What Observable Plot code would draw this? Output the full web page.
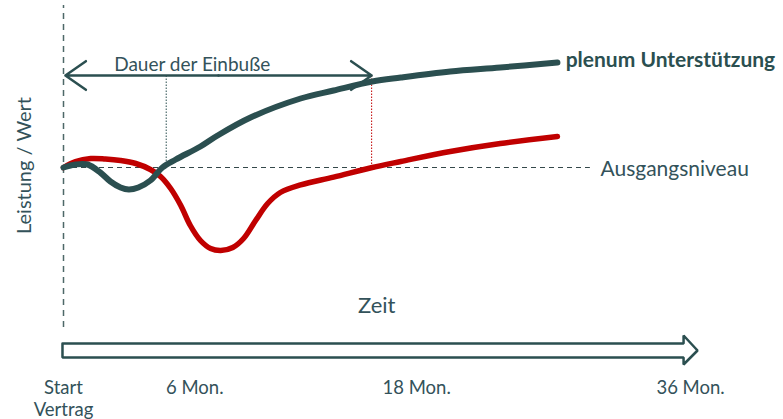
<!DOCTYPE html>
<html>
<head>
<meta charset="utf-8">
<script src="https://cdn.jsdelivr.net/npm/d3@7"></script>
<script src="https://cdn.jsdelivr.net/npm/@observablehq/plot@0.6"></script>
<style>
  html, body { margin: 0; padding: 0; background: #fff; }
  #chart { width: 783px; height: 419px; }
</style>
</head>
<body>
<div id="chart"></div>
<script>
// Abstract units: t = time (0 = contract start), v = performance level (100 = baseline)
const tealT = [0, 1.9, 3.8, 5.8, 7.4, 9.0, 10.3, 11.8, 13.7, 15.6, 17.7, 21.6, 24.3, 29.5, 37.4, 42.6, 48.7, 53.2, 61.0, 68.9, 77.9];
const tealV = [100, 101.5, 101.5, 97.5, 93, 90, 89, 90, 93.5, 100, 104, 110.5, 116, 125, 134.5, 138.5, 143, 145, 148, 150, 152.5];

const redT = [0, 1.9, 4.3, 6.6, 9.0, 11.4, 13.7, 15.3, 16.9, 18.5, 20.0, 21.6, 23.2, 24.8, 26.7, 28.4, 30.3, 32.2, 34.2, 37.4, 42.6, 48.7, 53.2, 61.0, 68.9, 77.9];
const redV = [100, 103, 104.5, 104.25, 103.5, 102, 99, 95.5, 89.5, 81, 71, 63.5, 59.5, 58.5, 60, 64.5, 73.5, 82, 87.5, 91.3, 95.2, 100, 103, 108, 112, 115.5];

const baselineLevel = 100;
const baselineEnd = 83.1;
const lossStart = 0.3;
const lossEndTeal = 16.2;   // teal curve back at baseline
const lossEndRed = 48.6;    // red curve back at baseline
const lossArrowLevel = 146;

const tickLabels = ["Start\nVertrag", "6 Mon.", "18 Mon.", "36 Mon."];
const tickPos = [0, 20.7, 55.7, 98.9];

// Time arrow outline (in t / v units)
const timeArrowT = [-0.16, 97.8, 97.8, 100, 97.8, 97.8, -0.16, -0.16];
const timeArrowV = [12, 12, 16, 8.5, 1.5, 5, 5, 12];

const TEAL = "#2b4f50";
const RED = "#c00000";
const TEXT = "#33525a";
const FONT = "Lato, 'Open Sans', sans-serif";

const teal = tealT.map((t, i) => ({t, v: tealV[i]}));
const red = redT.map((t, i) => ({t, v: redV[i]}));
const arrow = timeArrowT.map((t, i) => ({t, v: timeArrowV[i]}));
const ticks = tickLabels.map((label, i) => ({label, t: tickPos[i]}));

const plot = Plot.plot({
  width: 783,
  height: 419,
  margin: 0,
  style: {fontFamily: FONT, background: "white", overflow: "visible"},
  x: {domain: [-9.937, 113.56], axis: null},
  y: {domain: [-26, 183.5], axis: null},
  marks: [
    // start vertical dashed line
    Plot.ruleX([0], {y1: 20, y2: 181, stroke: "#4e6868", strokeWidth: 1.5, strokeDasharray: "6,5"}),
    // baseline
    Plot.ruleY([baselineLevel], {x1: 0, x2: baselineEnd, stroke: "#34484a", strokeWidth: 1.2, strokeDasharray: "5,4"}),
    // dotted verticals
    Plot.ruleX([lossEndTeal], {y1: baselineLevel, y2: lossArrowLevel, stroke: TEAL, strokeWidth: 1, strokeDasharray: "1.5,1.5"}),
    Plot.ruleX([lossEndRed], {y1: baselineLevel, y2: lossArrowLevel, stroke: RED, strokeWidth: 1, strokeDasharray: "1.5,1.5"}),
    // double arrow
    Plot.arrow([{a: (lossStart + lossEndRed) / 2, b: lossStart}, {a: (lossStart + lossEndRed) / 2, b: lossEndRed}], {
      x1: "a", x2: "b", y1: lossArrowLevel, y2: lossArrowLevel,
      stroke: TEAL, strokeWidth: 2.5, headLength: 15, headAngle: 70, bend: 0
    }),
    Plot.text(["Dauer der Einbuße"], {x: 20.3, y: 151.5, fill: TEXT, fontSize: 19}),
    // curves
    Plot.line(red, {x: "t", y: "v", curve: "catmull-rom", stroke: RED, strokeWidth: 5.5}),
    Plot.line(teal, {x: "t", y: "v", curve: "catmull-rom", stroke: TEAL, strokeWidth: 6}),
    Plot.text(["plenum Unterstützung"], {x: 79.2, y: 153.4, textAnchor: "start", fill: TEAL, fontSize: 21, fontWeight: "bold"}),
    Plot.text(["Ausgangsniveau"], {x: 84.7, y: 99.2, textAnchor: "start", fill: TEXT, fontSize: 21}),
    // axis titles
    Plot.text(["Leistung / Wert"], {x: -6.1, y: 101, rotate: -90, fill: TEXT, fontSize: 20}),
    Plot.text(["Zeit"], {x: 49.4, y: 31, fill: TEXT, fontSize: 22}),
    // time arrow
    Plot.line(arrow, {x: "t", y: "v", stroke: TEAL, strokeWidth: 2.5, fill: "white", strokeLinejoin: "miter"}),
    // tick labels
    Plot.text(ticks, {x: "t", y: -5.5, text: "label", lineAnchor: "top", lineHeight: 1.2, fill: TEXT, fontSize: 18.5})
  ]
});
document.getElementById("chart").appendChild(plot);
</script>
</body>
</html>
